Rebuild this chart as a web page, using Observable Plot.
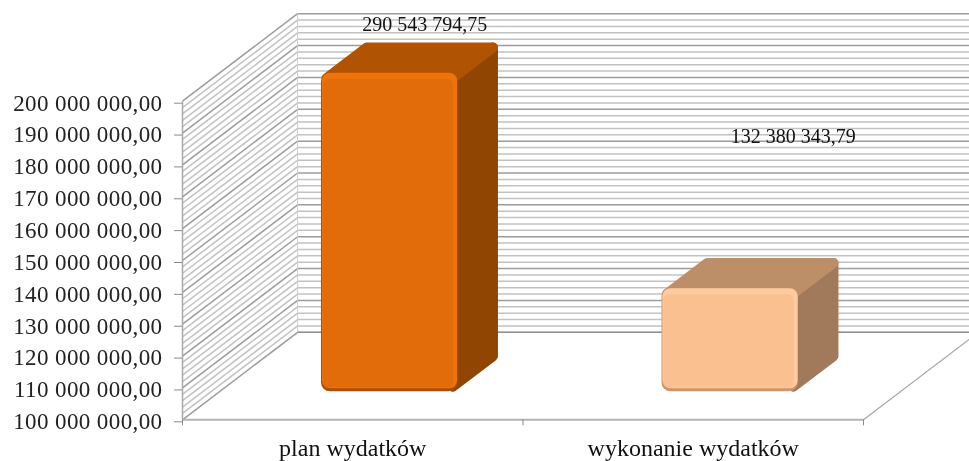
<!DOCTYPE html>
<html lang="pl">
<head>
<meta charset="utf-8">
<script src="https://cdn.jsdelivr.net/npm/d3@7"></script>
<script src="https://cdn.jsdelivr.net/npm/@observablehq/plot@0.6"></script>
<style>
html,body{margin:0;padding:0;background:#fff;overflow:hidden}
svg{display:block;filter:blur(.45px)}
svg text{font-family:"Liberation Serif",serif}
svg g[aria-label="y-axis tick label"] text{letter-spacing:.4px}
</style>
</head>
<body>
<div id="chart"></div>
<script>
const categories = ["plan wydatków", "wykonanie wydatków"];
const values = [290543794.75, 132380343.79];
const tickValues = [100e6, 110e6, 120e6, 130e6, 140e6, 150e6, 160e6, 170e6, 180e6, 190e6, 200e6];
const minorValues = d3.range(100e6, 200e6 + 1, 2e6).filter(v => !tickValues.includes(v));
const axisMax = 200e6, axisMin = 100e6;

// depth of the floor expressed in the scales' own units
const depthU = 0.338, depthV = 27.46e6;
const barHalf = 0.2, tFront = 0.32, tBack = 0.67;
// how far the faces are pulled in so their thick round stroke rounds the corners
const insetU = 0.0147, insetV = 1.57e6;
const fmt = d3.formatLocale({decimal: ",", thousands: " ", grouping: [3]}).format(",.2f");
const at = (u, v, t) => ({x: u + t * depthU, y: v + t * depthV});

const frontColors = ["#e36c0a", "#fac090"];
const edgeColors = ["#a95006", "#d0966a"];
const glowColors = ["#ee730b", "#fdcb9f"];
const topColors = ["#b05303", "#bd8f68"];
const sideColors = ["#914503", "#a07a5a"];

const bars = values.map((v, i) => {
  const c = i + 0.5, top = Math.min(v, axisMax);
  const a = at(c - barHalf, axisMin, tFront), b = at(c + barHalf, top, tFront);
  return {i, x1: a.x, x2: b.x, y1: a.y, y2: b.y, c, top};
});
const poly = (i, pts) => pts.map(p => ({i, x: p.x, y: p.y}));
const sides = bars.flatMap(d => {
  const r = d.c + barHalf - insetU, hi = d.top - insetV, lo = axisMin + insetV;
  return poly(d.i, [at(r, hi, tFront), at(r, hi, tBack), at(r, lo, tBack), at(r, lo, tFront)]);
});
const tops = bars.flatMap(d => {
  const l = d.c - barHalf + insetU, r = d.c + barHalf - insetU, v = d.top - insetV;
  return poly(d.i, [at(l, v, tFront), at(l, v, tBack), at(r, v, tBack), at(r, v, tFront)]);
});

const wallLines = (vals, stroke, strokeWidth) => [
  Plot.link(vals, {x1: () => 0, x2: () => depthU, y1: d => d, y2: d => d + depthV, stroke, strokeWidth}),
  Plot.link(vals, {x1: () => depthU, x2: () => 2 + depthU, y1: d => d + depthV, y2: d => d + depthV, stroke, strokeWidth})
];
const seg = (u1, v1, u2, v2, stroke, strokeWidth) =>
  Plot.link([0], {x1: () => u1, x2: () => u2, y1: () => v1, y2: () => v2, stroke, strokeWidth});
const face = (data, colors) => Plot.line(data, {
  x: "x", y: "y", z: "i", curve: "linear-closed",
  fill: d => colors[d.i], stroke: d => colors[d.i], strokeWidth: 10, strokeLinejoin: "round"
});

const chart = Plot.plot({
  width: 969, height: 461,
  marginLeft: 182, marginRight: 0, marginTop: 0, marginBottom: 41.7,
  x: {domain: [0, 787 / 340.5], axis: null},
  y: {domain: [axisMin, axisMin + 419.3 / 3.186 * 1e6], axis: null},
  color: {type: "identity"},
  style: {background: "#fff", overflow: "hidden"},
  marks: [
    ...wallLines(minorValues, "#c2c2c2", 1.5),
    ...wallLines(tickValues, "#9c9c9c", 1.5),
    // wall edges and floor outline
    seg(0, axisMin, 0, axisMax, "#a8a8a8", 1.5),
    seg(depthU, axisMin + depthV, depthU, axisMax + depthV, "#cfcfcf", 1),
    seg(0, axisMin, 2, axisMin, "#b4b4b4", 2),
    seg(2, axisMin, 2 + depthU, axisMin + depthV, "#a8a8a8", 1.2),
    seg(depthU, axisMin + depthV, 2 + depthU, axisMin + depthV, "#8f8f8f", 1.3),
    Plot.axisX([0, 1, 2], {anchor: "bottom", tickSize: 6, text: null, stroke: "#8a8a8a"}),
    // bars: side, top, front (edge + body + highlight)
    face(sides, sideColors),
    face(tops, topColors),
    Plot.rect(bars, {x1: "x1", x2: "x2", y1: "y1", y2: "y2", fill: d => edgeColors[d.i], rx: 9}),
    Plot.rect(bars, {x1: "x1", x2: "x2", y1: "y1", y2: "y2", fill: d => glowColors[d.i], rx: 8, insetBottom: 3, insetLeft: 1}),
    Plot.rect(bars, {x1: "x1", x2: "x2", y1: "y1", y2: "y2", fill: d => frontColors[d.i], rx: 6, insetTop: 6, insetBottom: 4, insetLeft: 2, insetRight: 4}),
    // value labels
    Plot.text([bars[0]], {x: d => at(d.c, d.top, tBack).x - 0.015, y: d => at(d.c, d.top, tBack).y, text: d => fmt(values[d.i]), dy: -18, fontSize: 20, fill: "#111"}),
    Plot.text([bars[1]], {x: d => at(d.c, d.top, tBack).x + 0.067, y: d => at(d.c, d.top, tBack).y, text: d => fmt(values[d.i]), dy: -121, fontSize: 20, fill: "#111"}),
    // axes
    Plot.axisY(tickValues, {anchor: "left", tickSize: 8, tickPadding: 12, tickFormat: fmt, fontSize: 23, stroke: "#8a8a8a", fill: "#222", dy: 2}),
    Plot.text(bars, {x: "c", y: () => axisMin, text: d => categories[d.i], dy: 29, fontSize: 24, fill: "#111"})
  ]
});
document.getElementById("chart").append(chart);
</script>
</body>
</html>
